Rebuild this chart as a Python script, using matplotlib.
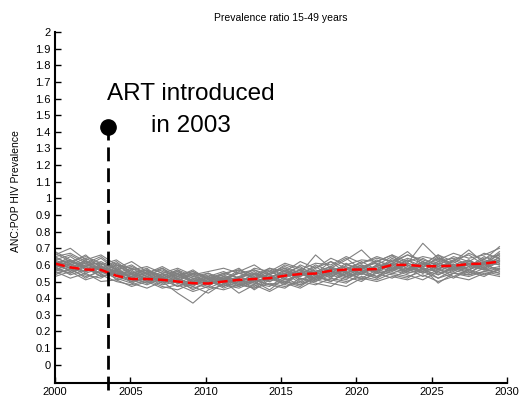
import numpy as np
import matplotlib
matplotlib.use("Agg")
import matplotlib.pyplot as plt

plt.rcParams['font.family'] = ['Liberation Sans', 'DejaVu Sans']

# yearly model output, 2000 to mid 2029
years = np.linspace(2000, 2029.5, 30)

# median prevalence ratio across runs
median_ratio = [0.608, 0.585, 0.572, 0.570, 0.535, 0.515, 0.515, 0.510, 0.500, 0.490,
                0.488, 0.500, 0.510, 0.515, 0.520, 0.535, 0.545, 0.548, 0.565, 0.572,
                0.572, 0.575, 0.600, 0.600, 0.592, 0.592, 0.595, 0.605, 0.608, 0.620]

# individual simulation runs
runs = [
    [0.66, 0.70, 0.63, 0.66, 0.60, 0.58, 0.55, 0.59, 0.54, 0.56, 0.52, 0.55, 0.57, 0.54, 0.58,
     0.56, 0.62, 0.58, 0.64, 0.60, 0.63, 0.62, 0.66, 0.62, 0.65, 0.63, 0.67, 0.64, 0.66, 0.70],
    [0.56, 0.52, 0.55, 0.50, 0.51, 0.47, 0.50, 0.46, 0.48, 0.44, 0.47, 0.45, 0.48, 0.46, 0.49,
     0.47, 0.50, 0.48, 0.52, 0.50, 0.53, 0.51, 0.55, 0.53, 0.56, 0.52, 0.55, 0.54, 0.56, 0.58],
    [0.62, 0.58, 0.60, 0.61, 0.55, 0.53, 0.57, 0.50, 0.53, 0.51, 0.48, 0.52, 0.49, 0.55, 0.50,
     0.54, 0.53, 0.57, 0.54, 0.58, 0.55, 0.60, 0.58, 0.63, 0.57, 0.61, 0.58, 0.62, 0.60, 0.63],
    [0.58, 0.63, 0.57, 0.55, 0.58, 0.52, 0.49, 0.53, 0.47, 0.50, 0.52, 0.47, 0.53, 0.50, 0.52,
     0.49, 0.56, 0.52, 0.55, 0.61, 0.56, 0.59, 0.62, 0.58, 0.60, 0.66, 0.59, 0.57, 0.62, 0.60],
    [0.64, 0.61, 0.66, 0.58, 0.56, 0.55, 0.51, 0.54, 0.56, 0.52, 0.50, 0.53, 0.51, 0.48, 0.55,
     0.58, 0.51, 0.55, 0.59, 0.55, 0.58, 0.56, 0.63, 0.60, 0.56, 0.62, 0.64, 0.60, 0.63, 0.61],
    [0.55, 0.57, 0.53, 0.56, 0.52, 0.49, 0.46, 0.50, 0.43, 0.37, 0.45, 0.48, 0.46, 0.50, 0.45,
     0.52, 0.48, 0.53, 0.50, 0.55, 0.52, 0.57, 0.55, 0.58, 0.53, 0.57, 0.55, 0.59, 0.57, 0.55],
    [0.60, 0.65, 0.59, 0.57, 0.61, 0.56, 0.53, 0.58, 0.51, 0.54, 0.49, 0.52, 0.55, 0.53, 0.57,
     0.51, 0.54, 0.59, 0.53, 0.57, 0.60, 0.55, 0.61, 0.66, 0.62, 0.58, 0.60, 0.63, 0.58, 0.65],
    [0.61, 0.56, 0.62, 0.54, 0.57, 0.53, 0.55, 0.49, 0.52, 0.48, 0.51, 0.46, 0.50, 0.47, 0.53,
     0.55, 0.52, 0.50, 0.56, 0.54, 0.57, 0.53, 0.59, 0.56, 0.61, 0.55, 0.58, 0.61, 0.57, 0.62],
    [0.68, 0.63, 0.59, 0.64, 0.57, 0.60, 0.54, 0.57, 0.52, 0.55, 0.53, 0.50, 0.56, 0.60, 0.54,
     0.58, 0.55, 0.66, 0.58, 0.63, 0.69, 0.60, 0.65, 0.61, 0.73, 0.64, 0.61, 0.67, 0.63, 0.71],
    [0.57, 0.60, 0.56, 0.59, 0.53, 0.50, 0.52, 0.48, 0.50, 0.47, 0.43, 0.49, 0.47, 0.51, 0.48,
     0.46, 0.52, 0.49, 0.47, 0.53, 0.50, 0.56, 0.54, 0.52, 0.58, 0.49, 0.55, 0.53, 0.56, 0.54],
    [0.63, 0.59, 0.61, 0.57, 0.59, 0.51, 0.54, 0.52, 0.55, 0.50, 0.52, 0.54, 0.50, 0.52, 0.56,
     0.52, 0.57, 0.54, 0.58, 0.56, 0.59, 0.61, 0.57, 0.63, 0.59, 0.64, 0.60, 0.58, 0.64, 0.66],
    [0.59, 0.62, 0.58, 0.53, 0.56, 0.54, 0.50, 0.52, 0.49, 0.53, 0.50, 0.48, 0.53, 0.49, 0.47,
     0.53, 0.57, 0.51, 0.55, 0.52, 0.55, 0.58, 0.61, 0.56, 0.59, 0.62, 0.57, 0.60, 0.57, 0.59],
    [0.65, 0.67, 0.62, 0.60, 0.63, 0.57, 0.59, 0.55, 0.58, 0.54, 0.56, 0.58, 0.55, 0.57, 0.54,
     0.60, 0.57, 0.61, 0.60, 0.65, 0.61, 0.64, 0.62, 0.66, 0.63, 0.60, 0.65, 0.62, 0.67, 0.64],
    [0.53, 0.56, 0.51, 0.54, 0.50, 0.48, 0.51, 0.47, 0.45, 0.49, 0.46, 0.50, 0.43, 0.48, 0.44,
     0.49, 0.46, 0.51, 0.49, 0.47, 0.52, 0.50, 0.53, 0.51, 0.54, 0.50, 0.53, 0.51, 0.55, 0.53],
    [0.62, 0.60, 0.64, 0.59, 0.55, 0.58, 0.53, 0.51, 0.55, 0.49, 0.52, 0.49, 0.52, 0.56, 0.51,
     0.55, 0.59, 0.53, 0.57, 0.59, 0.54, 0.60, 0.57, 0.60, 0.56, 0.59, 0.62, 0.57, 0.61, 0.68],
    [0.58, 0.55, 0.60, 0.57, 0.53, 0.55, 0.57, 0.53, 0.49, 0.51, 0.55, 0.51, 0.48, 0.52, 0.54,
     0.50, 0.54, 0.56, 0.52, 0.60, 0.58, 0.62, 0.66, 0.57, 0.62, 0.57, 0.63, 0.59, 0.65, 0.61],
    [0.60, 0.57, 0.63, 0.56, 0.60, 0.54, 0.57, 0.52, 0.56, 0.50, 0.54, 0.50, 0.53, 0.57, 0.52,
     0.56, 0.53, 0.58, 0.62, 0.55, 0.58, 0.63, 0.58, 0.61, 0.58, 0.65, 0.58, 0.63, 0.58, 0.62],
    [0.57, 0.61, 0.55, 0.58, 0.54, 0.57, 0.50, 0.55, 0.51, 0.47, 0.53, 0.49, 0.52, 0.45, 0.51,
     0.55, 0.49, 0.54, 0.50, 0.56, 0.51, 0.55, 0.52, 0.57, 0.62, 0.54, 0.58, 0.55, 0.60, 0.57],
    [0.63, 0.66, 0.61, 0.65, 0.58, 0.62, 0.56, 0.53, 0.57, 0.53, 0.55, 0.51, 0.57, 0.52, 0.58,
     0.53, 0.60, 0.56, 0.59, 0.64, 0.57, 0.62, 0.60, 0.64, 0.61, 0.57, 0.63, 0.66, 0.60, 0.67],
    [0.54, 0.58, 0.52, 0.57, 0.55, 0.51, 0.48, 0.52, 0.49, 0.46, 0.49, 0.52, 0.47, 0.51, 0.48,
     0.50, 0.47, 0.53, 0.51, 0.49, 0.55, 0.52, 0.57, 0.54, 0.51, 0.56, 0.52, 0.57, 0.54, 0.57],
    [0.61, 0.63, 0.58, 0.55, 0.60, 0.55, 0.58, 0.51, 0.54, 0.50, 0.47, 0.53, 0.50, 0.54, 0.52,
     0.57, 0.50, 0.55, 0.53, 0.57, 0.62, 0.57, 0.60, 0.56, 0.60, 0.63, 0.59, 0.55, 0.61, 0.64],
    [0.65, 0.60, 0.62, 0.58, 0.62, 0.55, 0.52, 0.56, 0.53, 0.57, 0.51, 0.54, 0.58, 0.51, 0.55,
     0.59, 0.55, 0.52, 0.58, 0.55, 0.60, 0.57, 0.64, 0.59, 0.55, 0.60, 0.57, 0.62, 0.59, 0.63],
    [0.59, 0.54, 0.57, 0.60, 0.51, 0.53, 0.49, 0.51, 0.47, 0.52, 0.48, 0.51, 0.49, 0.46, 0.52,
     0.48, 0.55, 0.50, 0.54, 0.51, 0.58, 0.55, 0.57, 0.60, 0.55, 0.58, 0.53, 0.57, 0.61, 0.56],
    [0.67, 0.62, 0.65, 0.61, 0.57, 0.59, 0.55, 0.58, 0.53, 0.56, 0.51, 0.55, 0.52, 0.58, 0.56,
     0.61, 0.58, 0.55, 0.62, 0.58, 0.61, 0.65, 0.62, 0.68, 0.60, 0.66, 0.62, 0.69, 0.61, 0.66],
    [0.56, 0.59, 0.54, 0.52, 0.57, 0.49, 0.53, 0.50, 0.52, 0.48, 0.50, 0.47, 0.51, 0.49, 0.53,
     0.50, 0.48, 0.52, 0.56, 0.53, 0.56, 0.53, 0.58, 0.55, 0.57, 0.54, 0.59, 0.56, 0.53, 0.58],
    [0.62, 0.58, 0.56, 0.59, 0.56, 0.52, 0.56, 0.54, 0.50, 0.55, 0.49, 0.51, 0.55, 0.52, 0.50,
     0.54, 0.57, 0.54, 0.58, 0.53, 0.56, 0.59, 0.56, 0.61, 0.58, 0.56, 0.60, 0.57, 0.62, 0.60],
    [0.60, 0.62, 0.59, 0.62, 0.57, 0.52, 0.55, 0.53, 0.57, 0.50, 0.53, 0.56, 0.52, 0.55, 0.52,
     0.57, 0.54, 0.60, 0.56, 0.53, 0.59, 0.56, 0.61, 0.57, 0.64, 0.59, 0.56, 0.61, 0.58, 0.63],
    [0.57, 0.55, 0.59, 0.53, 0.55, 0.50, 0.53, 0.49, 0.51, 0.45, 0.50, 0.53, 0.48, 0.50, 0.53,
     0.49, 0.55, 0.51, 0.57, 0.53, 0.55, 0.52, 0.60, 0.55, 0.58, 0.52, 0.57, 0.54, 0.58, 0.55],
]

art_year = 2003.5
art_marker = 1.43
x_ticks = [2000, 2005, 2010, 2015, 2020, 2025, 2030]
y_ticks = np.round(np.arange(0, 2.01, 0.1), 1)

fig = plt.figure(figsize=(5.21, 4.01), dpi=100)
ax = fig.add_axes([0.1056, 0.045, 0.8675, 0.875])

for r in runs:
    ax.plot(years, r, color='#808080', lw=0.8)
ax.plot(years, median_ratio, color='red', lw=1.8, ls=(0, (4, 2)))

# ART start marker
ax.plot([art_year, art_year], [-0.15, art_marker], color='black', lw=2,
        ls=(0, (5, 2.5)), clip_on=False)
ax.plot(art_year, art_marker, 'o', color='black', ms=11, clip_on=False)
ax.text(2009, 1.53, 'ART introduced\nin 2003', fontsize=17.5, ha='center',
        va='center', linespacing=1.6)

ax.set_xlim(2000, 2030)
ax.set_ylim(-0.11, 2)
ax.set_xticks(x_ticks)
ax.set_yticks(y_ticks)
ax.set_yticklabels(['%g' % v for v in y_ticks])
ax.tick_params(direction='in', length=4, width=1, labelsize=8, pad=3)
for s in ['top', 'right']:
    ax.spines[s].set_visible(False)
for s in ['left', 'bottom']:
    ax.spines[s].set_linewidth(1.5)

ax.set_title('Prevalence ratio 15-49 years', fontsize=7.5, pad=8)
ax.set_ylabel('ANC:POP HIV Prevalence', fontsize=7.5)
ax.yaxis.set_label_coords(-0.075, 0.547)

fig.savefig('out.png', dpi=100)
